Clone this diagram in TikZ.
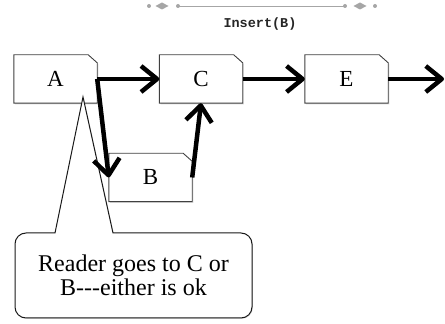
\documentclass[tikz,border=0pt]{standalone}
\usepackage{fontspec}
\setmainfont{Liberation Serif}
\newfontfamily\monob{Liberation Mono}
\usetikzlibrary{arrows.meta,shadows}
\pgfdeclarelayer{background}
\pgfsetlayers{background,main}
\begin{document}
\begin{tikzpicture}[x=1pt,y=1pt,
  listbox/.style={minimum width=83pt, minimum height=48pt, inner sep=0pt, font=\fontsize{23}{26}\selectfont},
  boxline/.style={draw=black!75, line width=0.9pt, fill=white, drop shadow={shadow xshift=1.2pt, shadow yshift=-1.2pt, opacity=0.3}},
  link/.style={line width=4.5pt, -{Straight Barb[length=16pt,width=26pt,line join=round]}},
  deco/.style={fill=black!35},
  calloutline/.style={draw=black!90, line width=1pt, fill=white, drop shadow={shadow xshift=0.8pt, shadow yshift=-0.8pt, opacity=0.3}},
]
\useasboundingbox (0,0) rectangle (445,324);
% list nodes
\node[listbox] (A) at (55.5,245) {A};
\node[listbox] (C) at (201,245) {C};
\node[listbox] (E) at (346.5,245) {E};
\node[listbox] (B) at (150.5,146.5) {B};
\coordinate (out) at (444,245);
\begin{pgfonlayer}{background}
\foreach \n in {A,C,E,B}
  \draw[boxline] (\n.south west) -- (\n.north west) -- ([xshift=-9pt]\n.north east) -- ([yshift=-8pt]\n.north east) -- (\n.south east) -- cycle;
\end{pgfonlayer}
% callout
\draw[calloutline] (55,91) -- (83,227) -- (113,91) -- (241,91)
  arc[start angle=90, end angle=0, radius=11] -- (252,17)
  arc[start angle=0, end angle=-90, radius=11] -- (26,6)
  arc[start angle=270, end angle=180, radius=11] -- (15,80)
  arc[start angle=180, end angle=90, radius=11] -- cycle;
\node[align=center, font=\fontsize{24}{24}\selectfont] (note) at (133.5,49) {Reader goes to C or\\B-{}-{}-either is ok};
% links
\draw[link] (A.east) -- (C.west);
\draw[link] (C.east) -- (E.west);
\draw[link] (E.east) -- (out);
\draw[link] (A.east) -- (B.west);
\draw[link] (B.east) -- (C.south);
% title decoration
\draw[black!35, line width=0.8pt] (178,318) -- (345,318);
\foreach \x in {149,178,345,375} \fill[deco] (\x,318) circle (2);
\foreach \x in {162,360} \fill[deco] (\x-6.5,318) -- (\x,321.5) -- (\x+6.5,318) -- (\x,314.5) -- cycle;
\node[font=\monob\bfseries\fontsize{13.5}{15}\selectfont, text=black!85] (title) at (260,300) {Insert(B)};
\end{tikzpicture}
\end{document}
